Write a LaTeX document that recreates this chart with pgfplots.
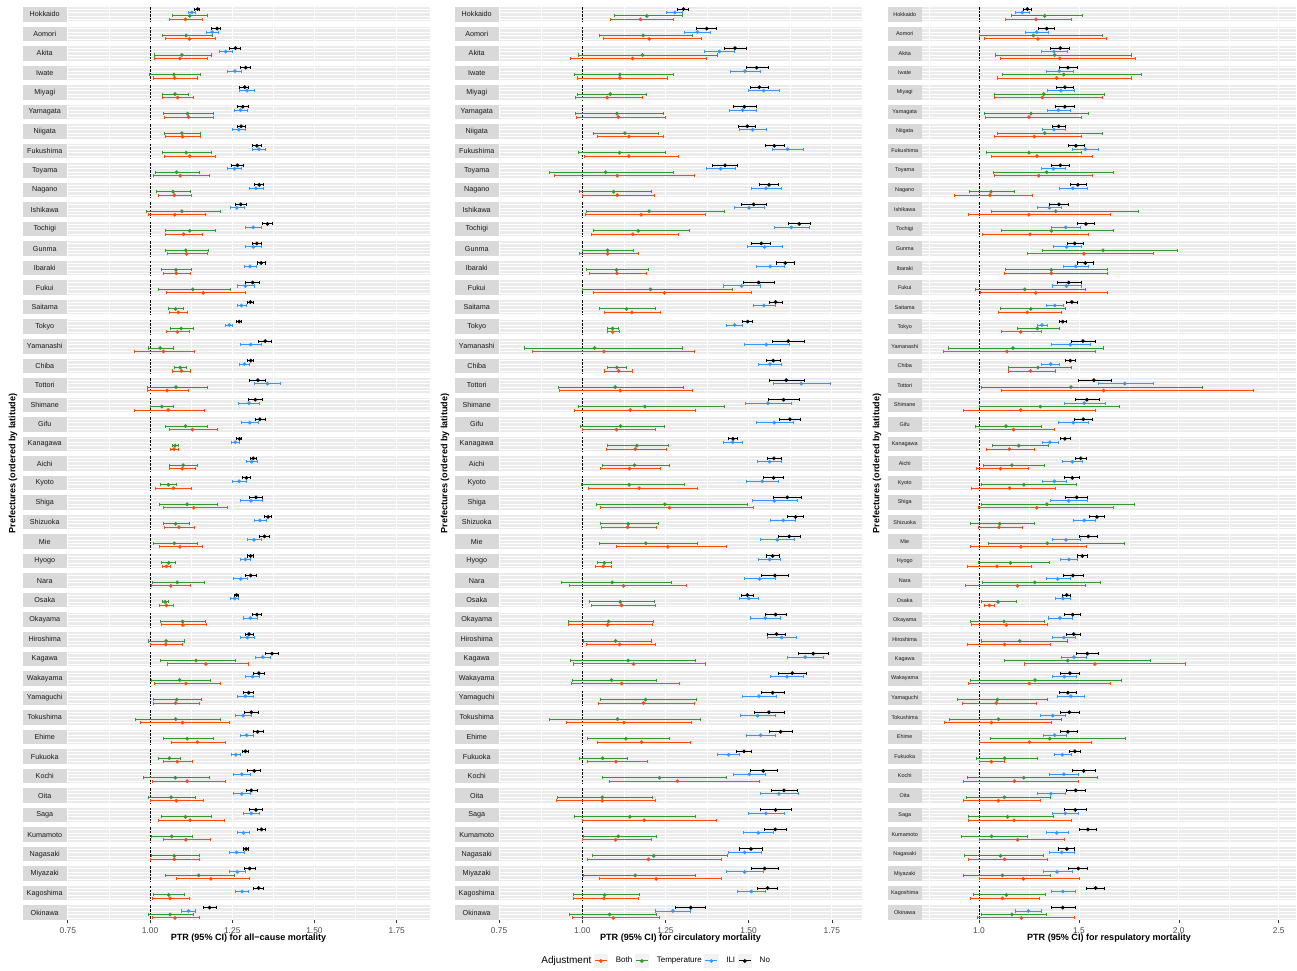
\documentclass[border=0pt]{standalone}
\usepackage{fontspec}
\setmainfont{Liberation Sans}
\usepackage{pgfplots}
\usepackage{pgfplotstable}
\usetikzlibrary{arrows.meta}
\pgfplotsset{compat=1.18}

\definecolor{colBoth}{HTML}{FC4E07}
\definecolor{colTemp}{HTML}{339933}
\definecolor{colILI}{HTML}{3399FF}
\definecolor{colNo}{HTML}{000000}
\definecolor{panelbg}{HTML}{EBEBEB}
\definecolor{stripbg}{HTML}{D9D9D9}
\definecolor{ticktext}{HTML}{4D4D4D}
\definecolor{legkey}{HTML}{F2F2F2}

% columns: k, No (lo,pt,hi), ILI, Temperature, Both
\pgfplotstableread{
k nL nP nH iL iP iH tL tP tH bL bP bH
0 1.134 1.145 1.153 1.117 1.127 1.140 1.068 1.121 1.177 1.058 1.108 1.161
1 1.185 1.204 1.217 1.170 1.189 1.211 1.037 1.110 1.190 1.046 1.120 1.201
2 1.241 1.260 1.278 1.209 1.230 1.253 1.012 1.097 1.189 1.012 1.091 1.175
3 1.274 1.291 1.308 1.235 1.258 1.281 0.997 1.073 1.156 1.010 1.075 1.145
4 1.272 1.288 1.301 1.272 1.295 1.319 1.035 1.076 1.118 1.037 1.084 1.133
5 1.263 1.282 1.300 1.254 1.275 1.297 1.041 1.114 1.194 1.043 1.117 1.196
6 1.263 1.277 1.291 1.250 1.270 1.291 1.043 1.097 1.155 1.047 1.099 1.154
7 1.311 1.325 1.339 1.309 1.331 1.354 1.037 1.110 1.189 1.044 1.121 1.202
8 1.247 1.266 1.286 1.235 1.257 1.281 1.015 1.081 1.152 1.008 1.092 1.183
9 1.317 1.332 1.348 1.300 1.322 1.345 1.019 1.070 1.124 1.024 1.074 1.127
10 1.257 1.276 1.295 1.242 1.264 1.288 0.988 1.097 1.217 0.993 1.075 1.169
11 1.341 1.357 1.373 1.290 1.314 1.339 1.047 1.121 1.201 1.047 1.102 1.162
12 1.311 1.325 1.341 1.290 1.314 1.341 1.045 1.109 1.179 1.052 1.111 1.175
13 1.325 1.338 1.352 1.285 1.304 1.326 1.034 1.079 1.127 1.041 1.080 1.124
14 1.290 1.312 1.335 1.263 1.290 1.318 1.025 1.130 1.247 1.048 1.162 1.291
15 1.296 1.305 1.315 1.263 1.278 1.294 1.056 1.078 1.102 1.059 1.086 1.114
16 1.262 1.271 1.280 1.229 1.241 1.253 1.061 1.095 1.133 1.049 1.083 1.121
17 1.329 1.350 1.371 1.275 1.306 1.339 0.995 1.031 1.072 0.952 1.041 1.137
18 1.296 1.306 1.317 1.270 1.287 1.304 1.074 1.092 1.111 1.068 1.096 1.124
19 1.302 1.328 1.354 1.317 1.357 1.397 0.990 1.079 1.177 0.992 1.052 1.118
20 1.299 1.320 1.342 1.268 1.301 1.334 1.000 1.036 1.072 0.951 1.055 1.168
21 1.319 1.334 1.352 1.278 1.303 1.330 1.045 1.108 1.177 1.059 1.129 1.206
22 1.262 1.272 1.281 1.246 1.259 1.274 1.066 1.076 1.087 1.061 1.073 1.087
23 1.304 1.314 1.324 1.291 1.309 1.327 1.058 1.101 1.147 1.058 1.098 1.139
24 1.280 1.293 1.306 1.248 1.271 1.294 1.030 1.056 1.083 1.016 1.071 1.129
25 1.302 1.322 1.342 1.275 1.307 1.342 1.028 1.113 1.207 1.038 1.133 1.236
26 1.348 1.359 1.371 1.317 1.334 1.355 1.041 1.078 1.121 1.043 1.088 1.136
27 1.332 1.348 1.364 1.294 1.316 1.339 1.008 1.074 1.146 1.028 1.091 1.160
28 1.296 1.306 1.317 1.275 1.290 1.306 1.034 1.057 1.080 1.037 1.050 1.063
29 1.289 1.306 1.324 1.253 1.276 1.299 1.007 1.083 1.166 1.003 1.063 1.126
30 1.255 1.263 1.272 1.244 1.257 1.272 1.035 1.046 1.057 1.028 1.050 1.072
31 1.311 1.325 1.339 1.284 1.305 1.327 1.031 1.099 1.170 1.032 1.100 1.174
32 1.289 1.301 1.315 1.275 1.296 1.318 0.995 1.049 1.106 1.001 1.048 1.099
33 1.351 1.371 1.392 1.318 1.343 1.368 1.030 1.140 1.262 1.053 1.170 1.302
34 1.314 1.331 1.351 1.290 1.312 1.335 1.002 1.090 1.185 1.013 1.109 1.216
35 1.283 1.300 1.316 1.265 1.290 1.315 1.010 1.081 1.157 1.010 1.078 1.153
36 1.286 1.308 1.330 1.259 1.283 1.309 0.955 1.078 1.215 0.970 1.099 1.243
37 1.312 1.327 1.345 1.274 1.294 1.317 1.040 1.113 1.194 1.065 1.144 1.230
38 1.279 1.290 1.301 1.246 1.261 1.277 1.025 1.059 1.095 1.041 1.083 1.130
39 1.296 1.317 1.338 1.251 1.279 1.307 0.978 1.077 1.183 1.007 1.113 1.231
40 1.291 1.308 1.327 1.253 1.279 1.306 0.994 1.064 1.139 1.000 1.080 1.165
41 1.302 1.322 1.344 1.284 1.308 1.334 1.032 1.108 1.189 1.024 1.122 1.227
42 1.325 1.339 1.354 1.263 1.284 1.304 1.003 1.066 1.132 1.041 1.109 1.185
43 1.284 1.292 1.300 1.241 1.263 1.288 1.003 1.074 1.153 1.000 1.074 1.153
44 1.285 1.303 1.321 1.241 1.265 1.291 1.047 1.148 1.259 1.080 1.185 1.304
45 1.314 1.330 1.348 1.257 1.280 1.302 1.008 1.057 1.106 1.005 1.061 1.121
46 1.160 1.181 1.203 1.093 1.117 1.139 0.994 1.061 1.133 1.007 1.076 1.151
}\tabA

\pgfplotstableread{
k nL nP nH iL iP iH tL tP tH bL bP bH
0 1.285 1.304 1.321 1.253 1.278 1.302 1.095 1.194 1.302 1.082 1.175 1.277
1 1.342 1.374 1.406 1.306 1.346 1.388 1.049 1.183 1.334 1.063 1.201 1.359
2 1.425 1.459 1.495 1.366 1.412 1.460 0.988 1.181 1.409 0.964 1.151 1.376
3 1.491 1.524 1.560 1.443 1.489 1.537 0.974 1.113 1.275 0.985 1.113 1.257
4 1.503 1.532 1.562 1.498 1.545 1.595 0.984 1.084 1.194 0.979 1.075 1.181
5 1.453 1.487 1.524 1.441 1.482 1.526 0.978 1.104 1.247 0.981 1.108 1.253
6 1.469 1.496 1.523 1.471 1.512 1.555 1.033 1.128 1.232 1.044 1.140 1.247
7 1.549 1.577 1.608 1.571 1.617 1.666 0.986 1.112 1.253 1.006 1.140 1.290
8 1.391 1.429 1.468 1.371 1.416 1.463 0.899 1.070 1.275 0.914 1.105 1.340
9 1.532 1.561 1.591 1.507 1.552 1.600 0.991 1.094 1.208 1.000 1.105 1.219
10 1.476 1.515 1.556 1.455 1.501 1.550 1.010 1.201 1.429 1.009 1.177 1.373
11 1.619 1.652 1.686 1.576 1.628 1.684 1.031 1.168 1.324 1.027 1.152 1.292
12 1.508 1.538 1.568 1.495 1.548 1.604 1.000 1.076 1.156 0.991 1.076 1.169
13 1.582 1.610 1.639 1.523 1.565 1.610 1.012 1.103 1.201 1.021 1.104 1.195
14 1.484 1.530 1.578 1.423 1.479 1.537 1.000 1.205 1.454 1.031 1.247 1.510
15 1.561 1.581 1.603 1.513 1.546 1.583 1.051 1.133 1.220 1.066 1.149 1.238
16 1.481 1.497 1.513 1.433 1.458 1.483 1.075 1.091 1.109 1.075 1.091 1.112
17 1.570 1.619 1.670 1.486 1.553 1.624 0.825 1.037 1.304 0.850 1.065 1.339
18 1.553 1.574 1.596 1.529 1.564 1.600 1.075 1.104 1.135 1.066 1.109 1.153
19 1.560 1.613 1.670 1.573 1.658 1.747 0.927 1.099 1.305 0.931 1.114 1.333
20 1.557 1.605 1.654 1.489 1.558 1.631 0.988 1.188 1.429 0.975 1.144 1.343
21 1.591 1.624 1.658 1.521 1.577 1.637 0.994 1.115 1.249 1.000 1.103 1.220
22 1.437 1.453 1.469 1.423 1.452 1.483 1.075 1.164 1.262 1.070 1.159 1.256
23 1.555 1.576 1.599 1.525 1.563 1.601 1.060 1.157 1.265 1.053 1.142 1.238
24 1.544 1.575 1.606 1.493 1.541 1.592 0.996 1.141 1.309 1.017 1.171 1.349
25 1.573 1.616 1.660 1.509 1.577 1.649 1.042 1.248 1.497 1.054 1.262 1.515
26 1.615 1.641 1.667 1.565 1.604 1.643 1.052 1.138 1.231 1.056 1.136 1.223
27 1.589 1.622 1.657 1.535 1.586 1.639 1.051 1.191 1.349 1.102 1.257 1.436
28 1.551 1.572 1.595 1.529 1.563 1.598 1.044 1.066 1.089 1.039 1.063 1.089
29 1.538 1.579 1.622 1.485 1.533 1.583 0.935 1.090 1.270 0.961 1.124 1.315
30 1.478 1.496 1.515 1.470 1.500 1.531 1.021 1.114 1.217 1.027 1.118 1.220
31 1.548 1.581 1.615 1.504 1.550 1.598 0.958 1.079 1.214 0.958 1.076 1.211
32 1.555 1.584 1.613 1.554 1.599 1.646 1.002 1.100 1.208 1.012 1.112 1.220
33 1.648 1.694 1.742 1.616 1.670 1.726 0.964 1.138 1.343 0.973 1.154 1.372
34 1.589 1.631 1.676 1.564 1.615 1.667 0.969 1.088 1.224 0.967 1.118 1.295
35 1.538 1.572 1.609 1.480 1.531 1.584 1.054 1.190 1.346 1.048 1.184 1.338
36 1.515 1.561 1.609 1.474 1.527 1.582 0.901 1.106 1.358 0.952 1.125 1.330
37 1.561 1.596 1.632 1.492 1.536 1.582 1.013 1.131 1.263 1.045 1.178 1.328
38 1.463 1.486 1.510 1.406 1.440 1.475 0.990 1.061 1.138 1.015 1.101 1.196
39 1.503 1.544 1.589 1.453 1.502 1.553 1.060 1.232 1.434 1.080 1.286 1.535
40 1.567 1.606 1.648 1.535 1.591 1.651 0.925 1.060 1.213 0.922 1.060 1.220
41 1.534 1.581 1.631 1.497 1.552 1.610 0.974 1.143 1.343 1.000 1.186 1.406
42 1.547 1.580 1.614 1.484 1.529 1.577 1.002 1.108 1.226 1.000 1.100 1.209
43 1.472 1.507 1.542 1.439 1.488 1.539 1.028 1.215 1.438 1.013 1.199 1.419
44 1.507 1.548 1.590 1.433 1.488 1.547 1.002 1.159 1.342 1.051 1.222 1.419
45 1.525 1.557 1.589 1.465 1.508 1.553 0.972 1.067 1.173 0.972 1.065 1.169
46 1.280 1.326 1.373 1.219 1.272 1.327 0.959 1.082 1.224 0.970 1.093 1.233
}\tabB

\pgfplotstableread{
k nL nP nH iL iP iH tL tP tH bL bP bH
0 1.222 1.242 1.264 1.182 1.217 1.254 1.162 1.329 1.522 1.132 1.285 1.464
1 1.297 1.339 1.382 1.232 1.289 1.349 1.002 1.272 1.619 1.027 1.295 1.639
2 1.357 1.407 1.457 1.312 1.375 1.444 1.078 1.379 1.764 1.103 1.404 1.787
3 1.402 1.445 1.494 1.337 1.402 1.474 1.115 1.424 1.816 1.092 1.389 1.766
4 1.387 1.430 1.474 1.342 1.410 1.482 1.077 1.324 1.631 1.073 1.317 1.619
5 1.382 1.430 1.482 1.342 1.397 1.459 1.027 1.260 1.549 1.032 1.250 1.515
6 1.365 1.399 1.435 1.317 1.375 1.437 1.092 1.329 1.619 1.077 1.277 1.515
7 1.447 1.485 1.529 1.467 1.532 1.602 1.037 1.250 1.514 1.062 1.290 1.569
8 1.360 1.407 1.457 1.312 1.372 1.435 1.070 1.339 1.674 1.077 1.299 1.569
9 1.455 1.495 1.539 1.402 1.470 1.545 0.950 1.060 1.182 0.877 1.055 1.272
10 1.352 1.400 1.452 1.292 1.352 1.415 1.062 1.384 1.801 0.947 1.250 1.659
11 1.492 1.535 1.580 1.362 1.434 1.509 1.108 1.362 1.674 1.015 1.255 1.552
12 1.439 1.479 1.524 1.369 1.439 1.514 1.315 1.621 1.997 1.242 1.525 1.874
13 1.492 1.532 1.574 1.422 1.484 1.549 1.130 1.362 1.646 1.127 1.362 1.647
14 1.390 1.449 1.514 1.367 1.437 1.514 0.982 1.229 1.534 1.005 1.284 1.644
15 1.437 1.465 1.495 1.334 1.379 1.425 1.103 1.259 1.437 1.093 1.242 1.415
16 1.399 1.419 1.442 1.289 1.315 1.347 1.188 1.292 1.407 1.112 1.209 1.314
17 1.459 1.520 1.584 1.362 1.457 1.559 0.843 1.170 1.624 0.822 1.140 1.584
18 1.430 1.457 1.487 1.312 1.359 1.405 1.147 1.295 1.467 1.143 1.257 1.387
19 1.497 1.575 1.664 1.595 1.729 1.874 1.008 1.460 2.119 1.112 1.624 2.374
20 1.482 1.540 1.604 1.427 1.527 1.634 1.002 1.307 1.706 0.922 1.209 1.587
21 1.477 1.522 1.569 1.397 1.472 1.552 0.978 1.135 1.317 1.002 1.173 1.380
22 1.405 1.430 1.459 1.315 1.355 1.399 1.067 1.199 1.349 1.035 1.152 1.279
23 1.480 1.509 1.539 1.415 1.467 1.520 1.022 1.165 1.329 0.985 1.108 1.252
24 1.427 1.467 1.505 1.317 1.377 1.440 1.012 1.225 1.489 0.962 1.153 1.385
25 1.432 1.489 1.547 1.357 1.449 1.545 1.012 1.340 1.779 0.995 1.289 1.674
26 1.552 1.590 1.631 1.470 1.527 1.587 0.953 1.103 1.279 0.995 1.100 1.219
27 1.502 1.547 1.594 1.365 1.435 1.509 1.047 1.342 1.729 0.957 1.210 1.539
28 1.489 1.517 1.547 1.407 1.450 1.495 0.995 1.158 1.354 0.942 1.090 1.265
29 1.422 1.470 1.524 1.334 1.394 1.459 1.015 1.279 1.612 0.932 1.193 1.534
30 1.415 1.439 1.460 1.382 1.420 1.460 1.010 1.095 1.192 1.027 1.052 1.078
31 1.427 1.469 1.509 1.347 1.405 1.469 0.957 1.125 1.329 0.962 1.137 1.345
32 1.435 1.474 1.510 1.365 1.425 1.484 1.008 1.204 1.444 0.942 1.128 1.360
33 1.487 1.542 1.599 1.412 1.475 1.542 1.123 1.444 1.859 1.227 1.580 2.036
34 1.407 1.455 1.505 1.364 1.427 1.490 0.957 1.280 1.714 0.943 1.252 1.662
35 1.402 1.445 1.489 1.392 1.460 1.532 0.888 1.092 1.344 0.917 1.087 1.292
36 1.404 1.452 1.507 1.305 1.369 1.437 0.848 1.097 1.414 0.827 1.062 1.364
37 1.405 1.445 1.494 1.319 1.379 1.442 1.057 1.354 1.734 1.000 1.252 1.564
38 1.452 1.480 1.509 1.374 1.417 1.464 0.983 1.128 1.294 1.000 1.062 1.128
39 1.464 1.524 1.585 1.350 1.425 1.502 0.942 1.224 1.594 0.922 1.177 1.502
40 1.435 1.484 1.535 1.292 1.360 1.434 0.937 1.127 1.359 0.922 1.097 1.309
41 1.427 1.482 1.542 1.364 1.432 1.502 0.947 1.143 1.377 0.947 1.175 1.464
42 1.502 1.545 1.589 1.334 1.389 1.450 0.910 1.063 1.244 1.000 1.193 1.429
43 1.397 1.440 1.482 1.349 1.414 1.482 0.927 1.108 1.324 0.947 1.128 1.347
44 1.447 1.497 1.547 1.320 1.390 1.469 0.922 1.117 1.359 1.000 1.222 1.504
45 1.535 1.584 1.631 1.359 1.420 1.484 0.970 1.137 1.334 0.957 1.117 1.304
46 1.360 1.419 1.484 1.178 1.247 1.317 1.010 1.165 1.342 0.992 1.212 1.480
}\tabC

\def\hL{0.26516}
\def\hI{0.08839}
\def\fh{0.37123}

\newcommand{\facets}[2]{%
  \pgfplotsinvokeforeach{0,...,46}{%
    \fill[panelbg] (axis cs:#1,{-##1+\fh}) rectangle (axis cs:#2,{-##1-\fh});
    \draw[white,line width=0.5pt]
      (axis cs:#1,{-##1+\hL}) -- (axis cs:#2,{-##1+\hL})
      (axis cs:#1,{-##1+\hI}) -- (axis cs:#2,{-##1+\hI})
      (axis cs:#1,{-##1-\hI}) -- (axis cs:#2,{-##1-\hI})
      (axis cs:#1,{-##1-\hL}) -- (axis cs:#2,{-##1-\hL});
  }%
}
\newcommand{\vgrid}[2]{%
  \pgfplotsinvokeforeach{#1}{\draw[white,line width=0.6pt] (axis cs:##1,0.4) -- (axis cs:##1,-46.4);}%
  \pgfplotsinvokeforeach{#2}{\draw[white,line width=0.3pt] (axis cs:##1,0.4) -- (axis cs:##1,-46.4);}%
}
\newcommand{\vref}{%
  \pgfplotsinvokeforeach{0,...,46}{\draw[black,line width=0.75pt,dash pattern=on 1.9pt off 0.8pt] (axis cs:1,{-##1+\fh}) -- (axis cs:1,{-##1-\fh});}%
}
% one CI segment: #1 table, #2 row, #3 lo col, #4 hi col, #5 colour, #6 signed y offset
\newcommand{\cirow}[6]{%
  \pgfplotstablegetelem{#2}{#3}\of{#1}\let\cilo\pgfplotsretval
  \pgfplotstablegetelem{#2}{#4}\of{#1}\let\cihi\pgfplotsretval
  \pgfmathsetmacro\ciy{-#2#6}%
  \edef\cicmd{\noexpand\addplot[forget plot, draw=#5, line width=0.75pt, mark=none,
    arrows={Bar[width=2.3pt]-Bar[width=2.3pt]}] coordinates {(\cilo,\ciy) (\cihi,\ciy)};}%
  \cicmd
}
\newcommand{\pts}[4]{% #1 table, #2 colour, #3 pt col, #4 signed y offset
  \addplot[color=#2, only marks, mark=*, mark size=1.2pt, mark options={solid, fill=#2, draw=#2}]
    table[x=#3, y expr={-\thisrow{k}#4}] {#1};
}
\newcommand{\series}[1]{%
  \pgfplotsinvokeforeach{0,...,46}{%
    \cirow{#1}{##1}{bL}{bH}{colBoth}{-0.26516}%
    \cirow{#1}{##1}{tL}{tH}{colTemp}{-0.08839}%
    \cirow{#1}{##1}{iL}{iH}{colILI}{+0.08839}%
    \cirow{#1}{##1}{nL}{nH}{colNo}{+0.26516}%
  }%
  \pts{#1}{colBoth}{bP}{-0.26516}
  \pts{#1}{colTemp}{tP}{-0.08839}
  \pts{#1}{colILI}{iP}{+0.08839}
  \pts{#1}{colNo}{nP}{+0.26516}
}

\pgfplotsset{
  ptrpanel/.style={
    scale only axis, anchor=south west,
    ymin=-46.37123, ymax=0.37123,
    axis line style={draw=none},
    axis x line*=bottom, axis y line*=left,
    ytick={0,-1,...,-46},
    yticklabels={Hokkaido,Aomori,Akita,Iwate,Miyagi,Yamagata,Niigata,Fukushima,Toyama,Nagano,Ishikawa,Tochigi,Gunma,Ibaraki,Fukui,Saitama,Tokyo,Yamanashi,Chiba,Tottori,Shimane,Gifu,Kanagawa,Aichi,Kyoto,Shiga,Shizuoka,Mie,Hyogo,Nara,Osaka,Okayama,Hiroshima,Kagawa,Wakayama,Yamaguchi,Tokushima,Ehime,Fukuoka,Kochi,Oita,Saga,Kumamoto,Nagasaki,Miyazaki,Kagoshima,Okinawa},
    ytick style={draw=none},
    yticklabel style={anchor=east, inner sep=0pt, fill=stripbg, text=black!90, minimum height=10.9pt, align=center},
    xtick align=outside,
    xtick style={draw=black!80, line width=0.45pt},
    major tick length=2.2pt,
    xticklabel style={font=\fontsize{6.3}{7}\selectfont, text=ticktext},
    xlabel style={font=\bfseries\fontsize{6.8}{8}\selectfont, at={(axis description cs:0.5,-0.0197)}, anchor=center},
    ylabel={Prefectures (ordered by latitude)},
    ylabel style={font=\bfseries\fontsize{6.8}{8}\selectfont, anchor=center},
  },
}

\begin{document}
\begin{tikzpicture}
\useasboundingbox (0,0) rectangle (972.75pt,728.25pt);

\begin{axis}[ptrpanel, at={(50.25pt,38.25pt)}, width=272.25pt, height=684.75pt,
  xmin=0.7477, xmax=1.8511,
  xtick={0.75,1,1.25,1.5,1.75}, xticklabels={0.75,1.00,1.25,1.50,1.75},
  yticklabel style={minimum width=33pt, font=\fontsize{5.4}{6}\selectfont},
  xlabel={PTR (95\% CI) for all−cause mortality},
  ylabel style={at={(axis description cs:-0.1488,0.5)}}]
\facets{0.7477}{1.8511}
\vgrid{0.75,1,1.25,1.5,1.75}{0.875,1.125,1.375,1.625}
\vref
\series{\tabA}
\end{axis}

\begin{axis}[ptrpanel, at={(374.25pt,38.25pt)}, width=272.25pt, height=684.75pt,
  xmin=0.7496, xmax=1.8407,
  xtick={0.75,1,1.25,1.5,1.75}, xticklabels={0.75,1.00,1.25,1.50,1.75},
  yticklabel style={minimum width=33pt, font=\fontsize{5.4}{6}\selectfont},
  xlabel={PTR (95\% CI) for circulatory mortality},
  ylabel style={at={(axis description cs:-0.1488,0.5)}},
  legend entries={{\fontsize{7.5}{9}\selectfont Adjustment},Both,Temperature,ILI,No},
  legend columns=-1,
  legend style={draw=none, fill=none, at={(0.4242,-0.0449)}, anchor=center,
    font=\fontsize{6}{7}\selectfont,
    /tikz/every odd column/.append style={column sep=4pt}},
  legend image code/.code={%
    \fill[legkey] (-0.5pt,-5pt) rectangle (9.5pt,5pt);
    \draw[line width=0.75pt] (0pt,0pt) -- (9pt,0pt);
    \fill (4.5pt,0pt) circle (1.2pt);
  }]
\addlegendimage{empty legend}
\facets{0.7496}{1.8407}
\vgrid{0.75,1,1.25,1.5,1.75}{0.875,1.125,1.375,1.625}
\vref
\series{\tabB}
\end{axis}

\begin{axis}[ptrpanel, at={(691.5pt,38.25pt)}, width=280.5pt, height=684.75pt,
  xmin=0.7147, xmax=2.5866,
  xtick={1,1.5,2,2.5}, xticklabels={1.0,1.5,2.0,2.5},
  yticklabel style={minimum width=25.5pt, font=\fontsize{4.1}{5}\selectfont},
  xlabel={PTR (95\% CI) for respulatory mortality},
  ylabel style={at={(axis description cs:-0.1203,0.5)}}]
\facets{0.7147}{2.5866}
\vgrid{1,1.5,2,2.5}{0.75,1.25,1.75,2.25}
\vref
\series{\tabC}
\end{axis}
\end{tikzpicture}
\end{document}
